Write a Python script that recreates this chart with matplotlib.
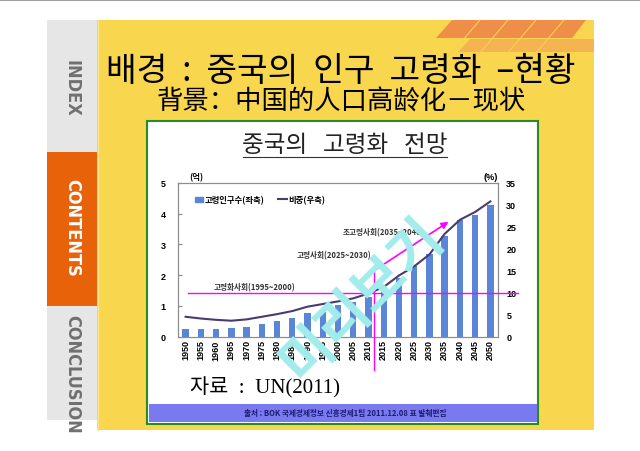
import matplotlib
matplotlib.use('Agg')
import matplotlib.pyplot as plt
from matplotlib.patches import Rectangle, Polygon, Patch
from matplotlib.lines import Line2D
from matplotlib.font_manager import FontProperties

years = [1950, 1955, 1960, 1965, 1970, 1975, 1980, 1985, 1990, 1995, 2000,
         2005, 2010, 2015, 2020, 2025, 2030, 2035, 2040, 2045, 2050]
# 고령인구수 (억명), left axis
pop = [0.25, 0.25, 0.26, 0.27, 0.30, 0.40, 0.50, 0.59, 0.77, 0.90, 1.02,
       1.13, 1.28, 1.47, 1.92, 2.29, 2.68, 3.27, 3.80, 3.97, 4.27]
# 비중 (%), right axis
ratio = [4.5, 4.1, 3.8, 3.6, 3.9, 4.5, 5.1, 5.8, 6.8, 7.4, 8.0,
         8.7, 9.8, 11.3, 13.9, 16.0, 18.7, 23.4, 26.6, 28.4, 30.8]

left_ticks = [0, 1, 2, 3, 4, 5]
right_ticks = [0, 5, 10, 15, 20, 25, 30, 35]

KR = 'Noto Sans CJK KR'
SC = 'Noto Sans CJK SC'

fig = plt.figure(figsize=(6.4, 4.52), dpi=100)

# slide background in pixel coordinates
bg = fig.add_axes([0, 0, 1, 1])
bg.set_xlim(0, 640)
bg.set_ylim(452, 0)
bg.axis('off')
bg.plot([0, 640], [0.5, 0.5], color='#A0A0A0', lw=1.5)
bg.add_patch(Rectangle((97, 21), 497, 410, color='#F8D64E', lw=0))
bg.add_patch(Rectangle((47, 21), 50, 400, color='#E6E6E6', lw=0))
bg.add_patch(Rectangle((47, 153), 50, 154, color='#E8620A', lw=0))
bg.plot([97.5, 97.5], [21, 431], color='#FBE58A', lw=1)

# orange stripes at top right
bg.add_patch(Polygon([(452, 21), (586, 21), (572, 39), (436, 39)],
                     color='#EF8E48', lw=0))
bg.add_patch(Polygon([(470, 40), (594, 40), (594, 53), (458, 53)],
                     color='#F4AC52', lw=0, alpha=0.8))
for xs in [480, 508, 536, 564]:
    bg.plot([xs, xs - 30], [21, 56], color='#F8CF5A', lw=0.8)

side_font = dict(rotation=-90, ha='center', va='center', weight='heavy',
                 family='DejaVu Sans', fontstretch='condensed')
bg.text(72, 88, 'INDEX', color='#707070', fontsize=13, **side_font)
bg.text(72, 228, 'CONTENTS', color='white', fontsize=13, **side_font)
bg.text(72, 374, 'CONCLUSION', color='#707070', fontsize=13, **side_font)

bg.text(106, 72, '배경  :  중국의  인구  고령화  –현황', fontsize=24,
        family=[KR, 'DejaVu Sans'], weight='light',
        ha='left', va='center', color='black')
bg.text(157, 102, '背景：中国的人口高龄化－现状', fontsize=19,
        family=[SC, 'DejaVu Sans'], weight='light',
        ha='left', va='center', color='black')

# chart card
bg.add_patch(Rectangle((147, 122), 391, 303, facecolor='white',
                       edgecolor='#2A8A2A', lw=1.5))
bg.text(345, 146, '중국의   고령화   전망', fontsize=17, family=KR, weight='light',
        ha='center', va='center', color='#222222')
bg.plot([243, 447], [157.5, 157.5], color='#333333', lw=0.8)
bg.text(189, 178, '(억)', fontsize=6, family=KR, weight='bold', ha='left', va='center')
bg.text(484, 178, '(%)', fontsize=6.5, family='Liberation Sans', weight='bold',
        ha='left', va='center')
bg.text(190, 388, '자료  :  UN(2011)', fontsize=15, family=['Liberation Serif', KR],
        ha='left', va='center', color='black')
bg.add_patch(Rectangle((149, 405), 388, 18, color='#7A7AF0', lw=0))
bg.text(345, 414, '출처 : BOK 국제경제정보 신흥경제1팀 2011.12.08 표 발췌편집',
        fontsize=5.5, family=[KR, 'DejaVu Sans'], weight='bold', color='#1C1C70',
        ha='center', va='center')

# chart axes
ax = fig.add_axes([178 / 640, (452 - 337.5) / 452, 320 / 640, 153.5 / 452])
x = list(range(len(years)))
ax.bar(x, pop, width=0.42, color='#5B86D8', zorder=2)
ax.set_xlim(-0.5, len(years) - 0.5)
ax.set_ylim(0, 5)
ax.set_yticks(left_ticks)
ax.set_xticks(x)
ax.set_xticklabels([str(y) for y in years], rotation=90, fontsize=6.5,
                   family='Liberation Sans', weight='bold')
ax.tick_params(axis='x', length=0, pad=2)
ax.tick_params(axis='y', direction='in', length=3, pad=9, labelsize=6.5,
               color='#888888')
for lab in ax.get_yticklabels():
    lab.set_family('Liberation Sans')
    lab.set_weight('bold')
for s in ax.spines.values():
    s.set_color('#8C8C8C')
    s.set_linewidth(0.8)

ax2 = ax.twinx()
ax2.plot(x, ratio, color='#4B3A70', lw=1.5, zorder=3)
ax2.set_ylim(0, 35)
ax2.set_yticks(right_ticks)
ax2.tick_params(axis='y', length=0, pad=6, labelsize=6.5)
for lab in ax2.get_yticklabels():
    lab.set_family('Liberation Sans')
    lab.set_weight('bold')
for s in ax2.spines.values():
    s.set_color('#8C8C8C')
    s.set_linewidth(0.8)

# markers of the aging stages
mag = '#FF00FF'
ax2.plot([0.15, 21.8], [10, 10], color=mag, lw=1, clip_on=False, zorder=4)
ax2.plot([12.36, 12.36], [15.0, -7.6], color=mag, lw=1, clip_on=False, zorder=4)
ax2.annotate('', xy=(17.4, 26.5), xytext=(12.36, 15.0),
             arrowprops=dict(arrowstyle='-|>', color=mag, lw=1.2,
                             mutation_scale=10), zorder=4)
note_font = dict(fontsize=5.5, family=KR, weight='bold', color='#333333',
                 ha='left', va='center')
ax2.text(1.86, 11.4, '고령화사회(1995~2000)', **note_font)
ax2.text(7.3, 18.7, '고령사회(2025~2030)', **note_font)
ax2.text(10.3, 23.8, '초고령사회(2035~2040)', **note_font)

legend_prop = FontProperties(family=KR, weight='bold', size=6)
handles = [Patch(color='#5B86D8'), Line2D([0], [0], color='#4B3A70', lw=1.5)]
ax2.legend(handles, ['고령인구수(좌축)', '비중(우축)'], loc='upper left',
           bbox_to_anchor=(0.03, 0.97), ncol=2, frameon=False, prop=legend_prop,
           handlelength=1.0, handleheight=0.6, handletextpad=0.2, columnspacing=1.6)

# preview watermark
ov = fig.add_axes([0, 0, 1, 1], zorder=10)
ov.set_xlim(0, 640)
ov.set_ylim(452, 0)
ov.axis('off')
ov.text(362, 300, '미리보기', fontsize=40, family=KR, weight='bold',
        color='#A2ECEC', rotation=45, ha='center', va='center')

fig.savefig('out.png', dpi=100)
